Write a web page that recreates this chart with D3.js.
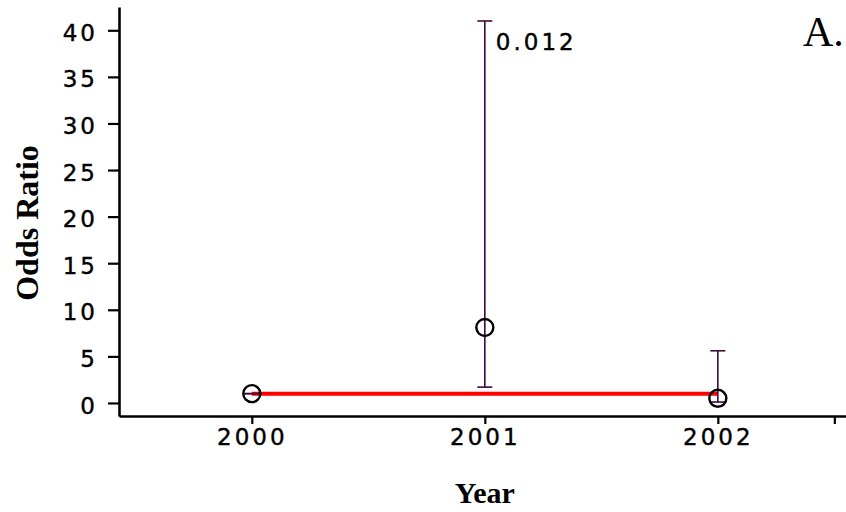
<!DOCTYPE html>
<html>
<head>
<meta charset="utf-8">
<script src="https://cdn.jsdelivr.net/npm/d3@7"></script>
<style>
body { margin: 0; background: #fff; }
</style>
</head>
<body>
<svg id="chart"></svg>
<script>
var width = 846;
var height = 512;

// data
var years = [2000, 2001, 2002];
var oddsRatio = [1, 8.1, 0.5];
var lowerCI = [1, 1.7, 0.1];
var upperCI = [1, 41, 5.6];
var pLabels = ["", "0.012", ""];
var yTicks = [0, 5, 10, 15, 20, 25, 30, 35, 40];
var xTicks = [2000, 2001, 2002, 2002.5];
var refValue = 1;

var tickFont = "'DejaVu Sans', sans-serif";
var titleFont = "'Liberation Serif', 'Times New Roman', serif";

var svg = d3.select('#chart')
    .attr('width', width)
    .attr('height', height)

var x = d3.scaleLinear()
    .domain([1999.43, 2002.55])
    .range([119, 846]);

var y = d3.scaleLinear()
    .domain([-1.4, 42.5])
    .range([416, 7]);

// axes
var yAxis = svg.append('g')
    .attr('transform', 'translate(119,0)')
    .call(d3.axisLeft(y).tickValues(yTicks).tickSize(11).tickSizeOuter(0).tickPadding(13))
yAxis.select('.domain').attr('stroke-width', 2.6)
yAxis.selectAll('.tick line').attr('stroke-width', 2.2)
yAxis.selectAll('.tick text')
    .attr('dy', '0.44em')
    .attr('dx', 3)
    .style('font-family', tickFont)
    .style('font-size', '23px')
    .style('letter-spacing', '3px')
    .style('stroke', '#000')
    .style('stroke-width', 0.4)
    .attr('fill', '#000')

var xAxis = svg.append('g')
    .attr('transform', 'translate(0,416)')
    .call(d3.axisBottom(x).tickValues(xTicks).tickSize(8).tickSizeOuter(0).tickPadding(5)
        .tickFormat(function(d){ return d % 1 === 0 ? d3.format('d')(d) : ''; }))
xAxis.select('.domain').attr('stroke-width', 2.6)
xAxis.selectAll('.tick line').attr('stroke-width', 2.2)
xAxis.selectAll('.tick text')
    .attr('dx', 0)
    .style('font-family', tickFont)
    .style('font-size', '23px')
    .style('letter-spacing', '3px')
    .style('stroke', '#000')
    .style('stroke-width', 0.4)
    .attr('fill', '#000')

// reference line at OR = 1
svg.append('line')
    .attr('x1', x(years[0]))
    .attr('x2', x(years[years.length - 1]))
    .attr('y1', y(refValue))
    .attr('y2', y(refValue))
    .style('stroke', '#ff0000')
    .style('stroke-width', 4)

var rows = years.map(function(yr, i){
    return {year: yr, or: oddsRatio[i], lo: lowerCI[i], hi: upperCI[i], label: pLabels[i]};
});

var barColor = '#3d0a3d';
var capHalf = 7.5;

var bars = svg.selectAll('g.ci')
    .data(rows)
    .enter()
    .append('g')
    .attr('class', 'ci')

bars.append('line')
    .attr('x1', function(d){ return x(d.year); })
    .attr('x2', function(d){ return x(d.year); })
    .attr('y1', function(d){ return y(d.lo); })
    .attr('y2', function(d){ return y(d.hi); })
    .style('stroke', barColor)
    .style('stroke-width', 1.6)

bars.append('line')
    .attr('x1', function(d){ return x(d.year) - capHalf; })
    .attr('x2', function(d){ return x(d.year) + capHalf; })
    .attr('y1', function(d){ return y(d.hi); })
    .attr('y2', function(d){ return y(d.hi); })
    .style('stroke', barColor)
    .style('stroke-width', 1.6)

bars.append('line')
    .attr('x1', function(d){ return x(d.year) - capHalf; })
    .attr('x2', function(d){ return x(d.year) + capHalf; })
    .attr('y1', function(d){ return y(d.lo); })
    .attr('y2', function(d){ return y(d.lo); })
    .style('stroke', barColor)
    .style('stroke-width', 1.6)

svg.selectAll('circle.pt')
    .data(rows)
    .enter()
    .append('circle')
    .attr('class', 'pt')
    .attr('cx', function(d){ return x(d.year); })
    .attr('cy', function(d){ return y(d.or); })
    .attr('r', 8.5)
    .style('fill', 'none')
    .style('stroke', '#000')
    .style('stroke-width', 2.4)

// p-value labels
svg.selectAll('text.pval')
    .data(rows.filter(function(d){ return d.label !== ''; }))
    .enter()
    .append('text')
    .attr('class', 'pval')
    .attr('x', function(d){ return x(d.year) + 11; })
    .attr('y', function(d){ return y(d.hi) + 29; })
    .style('font-family', tickFont)
    .style('font-size', '23px')
    .style('letter-spacing', '3px')
    .style('stroke', '#000')
    .style('stroke-width', 0.4)
    .text(function(d){ return d.label; })

// titles
svg.append('text')
    .attr('transform', 'translate(38,223) rotate(-90)')
    .attr('text-anchor', 'middle')
    .style('font-family', titleFont)
    .style('font-weight', 'bold')
    .style('font-size', '32px')
    .text('Odds Ratio')

svg.append('text')
    .attr('x', x(2001))
    .attr('y', 503)
    .attr('text-anchor', 'middle')
    .style('font-family', titleFont)
    .style('font-weight', 'bold')
    .style('font-size', '30px')
    .text('Year')

svg.append('text')
    .attr('x', 803)
    .attr('y', 46)
    .style('font-family', titleFont)
    .style('font-size', '42px')
    .text('A.')
</script>
</body>
</html>
